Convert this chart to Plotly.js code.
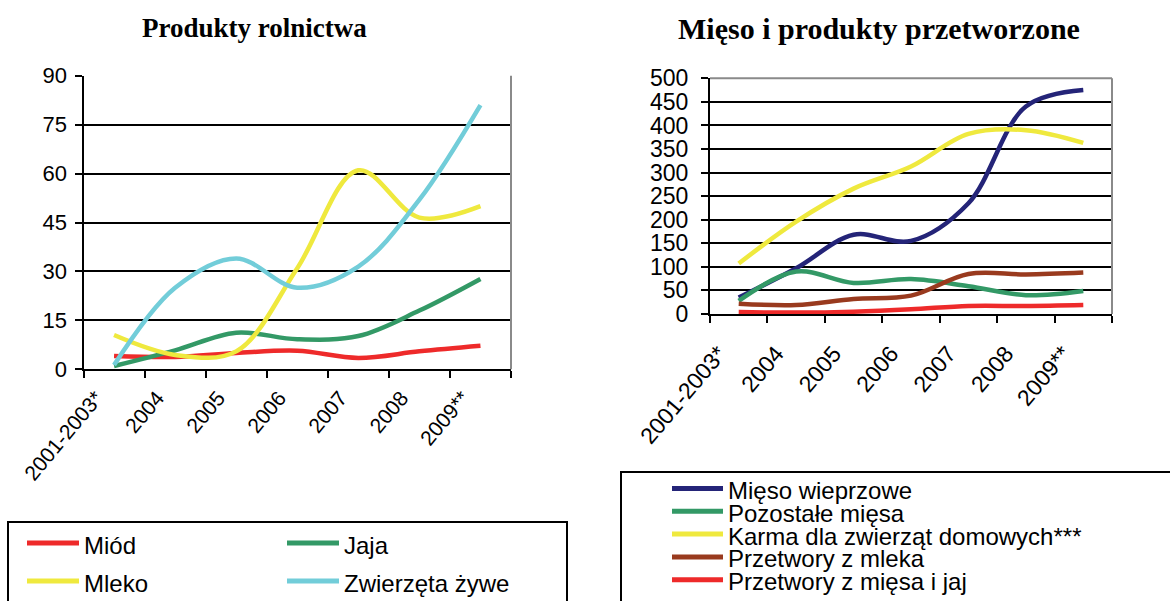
<!DOCTYPE html>
<html><head><meta charset="utf-8">
<script src="https://cdn.plot.ly/plotly-3.0.1.min.js"></script>
<style>html,body{margin:0;padding:0;background:#fff}#chart{width:1170px;height:601px}</style>
</head><body><div id="chart"></div>
<script>
// ---- data ----
const categories = ["2001-2003*", "2004", "2005", "2006", "2007", "2008", "2009**"];

const leftTitle = "Produkty rolnictwa";
const leftNames = ["Miód", "Jaja", "Mleko", "Zwierzęta żywe"];
const miod      = [4.1, 3.8, 5.0, 5.7, 3.5, 5.5, 7.2];
const jaja      = [1.0, 5.8, 11.2, 9.2, 10.2, 18.0, 27.7];
const mleko     = [10.5, 4.4, 5.5, 31.0, 61.0, 46.5, 50.0];
const zwierzeta = [1.3, 25.0, 34.0, 25.0, 31.5, 52.0, 81.0];
const leftTicks = [0, 15, 30, 45, 60, 75, 90];

const rightTitle = "Mięso i produkty przetworzone";
const rightNames = ["Mięso wieprzowe", "Pozostałe mięsa", "Karma dla zwierząt domowych***", "Przetwory z mleka", "Przetwory z mięsa i jaj"];
const wieprzowe  = [35, 97, 168, 155, 235, 440, 475];
const pozostale  = [28, 90, 66, 74, 59, 40, 49];
const karma      = [107, 196, 266, 313, 382, 390, 363];
const zMleka     = [22, 19, 32, 39, 85, 84, 88];
const zMiesaJaj  = [4, 3, 5, 10, 17, 17, 19];
const rightTicks = [0, 50, 100, 150, 200, 250, 300, 350, 400, 450, 500];

// ---- styling ----
const W = 1170, H = 601;
const X = px => px / W;
const Y = py => 1 - py / H;
const leftColors  = ["#EE2A2A", "#339966", "#EFE93E", "#72CDD9"];
const rightColors = ["#242478", "#339966", "#EFE93E", "#993A1E", "#EE2A2A"];
const leftSeries  = [miod, jaja, mleko, zwierzeta];
const rightSeries = [wieprzowe, pozostale, karma, zMleka, zMiesaJaj];
const SANS = "Liberation Sans, Arial, sans-serif";
const SERIF = "Liberation Serif, Times New Roman, serif";

const traces = [];
leftSeries.forEach((s, i) => traces.push({
  x: categories, y: s, name: leftNames[i], type: "scatter", mode: "lines",
  line: {color: leftColors[i], width: 4.5, shape: "spline", smoothing: 1},
  xaxis: "x", yaxis: "y", showlegend: false
}));
rightSeries.forEach((s, i) => traces.push({
  x: categories, y: s, name: rightNames[i], type: "scatter", mode: "lines",
  line: {color: rightColors[i], width: 4.5, shape: "spline", smoothing: 1},
  xaxis: "x2", yaxis: "y2", showlegend: false
}));

// plot areas (pixels)
const L = {x0: 83.5, x1: 511, y0: 75.7, y1: 369.3};
const R = {x0: 710, x1: 1112, y0: 78.3, y1: 314};

const xbase = {
  type: "category", range: [-0.5, 6.5], tickson: "boundaries",
  ticks: "outside", ticklen: 7, tickwidth: 2, tickcolor: "#000",
  showline: true, linewidth: 2, linecolor: "#000", showgrid: false,
  tickangle: -50, fixedrange: true
};
const ybase = {
  ticks: "outside", ticklen: 7, tickwidth: 2, tickcolor: "#000",
  showline: true, linewidth: 2, linecolor: "#000",
  showgrid: true, gridcolor: "#000", gridwidth: 2, zeroline: false, fixedrange: true
};

const shapes = [];
const annotations = [];

// plot area borders (grey right / top)
shapes.push({type: "line", xref: "paper", yref: "paper", x0: X(L.x1), x1: X(L.x1), y0: Y(L.y0), y1: Y(L.y1), line: {color: "#8a8a8a", width: 2}});
shapes.push({type: "line", xref: "paper", yref: "paper", x0: X(R.x1), x1: X(R.x1), y0: Y(R.y0), y1: Y(R.y1), line: {color: "#8a8a8a", width: 2}});
shapes.push({type: "line", xref: "paper", yref: "paper", x0: X(R.x0), x1: X(R.x1), y0: Y(R.y0), y1: Y(R.y0), line: {color: "#8a8a8a", width: 2}});

// titles
annotations.push({text: "<b>" + leftTitle + "</b>", xref: "paper", yref: "paper", x: X(254), y: Y(28), xanchor: "center", yanchor: "middle", showarrow: false,
  font: {family: SERIF, size: 27, color: "#000"}});
annotations.push({text: "<b>" + rightTitle + "</b>", xref: "paper", yref: "paper", x: X(879), y: Y(29), xanchor: "center", yanchor: "middle", showarrow: false,
  font: {family: SERIF, size: 30, color: "#000"}});

// legend boxes
shapes.push({type: "rect", xref: "paper", yref: "paper", x0: X(8), x1: X(567), y0: Y(522), y1: Y(620), line: {color: "#000", width: 2}, fillcolor: "rgba(0,0,0,0)"});
shapes.push({type: "rect", xref: "paper", yref: "paper", x0: X(621), x1: X(1190), y0: Y(472), y1: Y(620), line: {color: "#000", width: 2}, fillcolor: "rgba(0,0,0,0)"});

// left legend: 2 columns
const legFont = {family: SANS, size: 24, color: "#000"};
leftNames.forEach((n, i) => {
  const col = i % 2, row = Math.floor(i / 2);
  const sx = col === 0 ? 27 : 287;
  const sy = row === 0 ? 543 : 581;
  shapes.push({type: "line", xref: "paper", yref: "paper", x0: X(sx), x1: X(sx + 52), y0: Y(sy), y1: Y(sy), line: {color: leftColors[i], width: 5}});
  annotations.push({text: n, xref: "paper", yref: "paper", x: X(sx + 55), y: Y(sy + 2), xanchor: "left", yanchor: "middle", showarrow: false, font: legFont});
});
// right legend: stacked, tight line spacing as in the reference
rightNames.forEach((n, i) => {
  const sy = 488.5 + i * 22.8;
  shapes.push({type: "line", xref: "paper", yref: "paper", x0: X(672), x1: X(723), y0: Y(sy), y1: Y(sy), line: {color: rightColors[i], width: 5}});
  annotations.push({text: n, xref: "paper", yref: "paper", x: X(726), y: Y(sy + 2), xanchor: "left", yanchor: "middle", showarrow: false, font: legFont});
});

const layout = {
  width: W, height: H, margin: {l: 0, r: 0, t: 0, b: 0},
  paper_bgcolor: "#fff", plot_bgcolor: "#fff", showlegend: false,
  font: {family: SANS, color: "#000"},
  xaxis: Object.assign({}, xbase, {domain: [X(L.x0), X(L.x1)], anchor: "y",
    tickfont: {size: 21, family: SANS, color: "#000"}, ticklabelstandoff: 6, ticklabelshift: -18}),
  yaxis: Object.assign({}, ybase, {domain: [Y(L.y1), Y(L.y0)], anchor: "x", range: [0, 90],
    tickvals: leftTicks, ticktext: leftTicks.map(String), ticklabelstandoff: 3,
    tickfont: {size: 22, family: SANS, color: "#000"}}),
  xaxis2: Object.assign({}, xbase, {domain: [X(R.x0), X(R.x1)], anchor: "y2",
    tickfont: {size: 23, family: SANS, color: "#000"}, ticklabelstandoff: 15, ticklabelshift: -20}),
  yaxis2: Object.assign({}, ybase, {domain: [Y(R.y1), Y(R.y0)], anchor: "x2", range: [0, 500],
    tickvals: rightTicks, ticktext: rightTicks.map(String), ticklabelstandoff: 8,
    tickfont: {size: 23, family: SANS, color: "#000"}}),
  shapes: shapes, annotations: annotations
};

Plotly.newPlot("chart", traces, layout, {displayModeBar: false, staticPlot: true});
</script>
</body></html>
